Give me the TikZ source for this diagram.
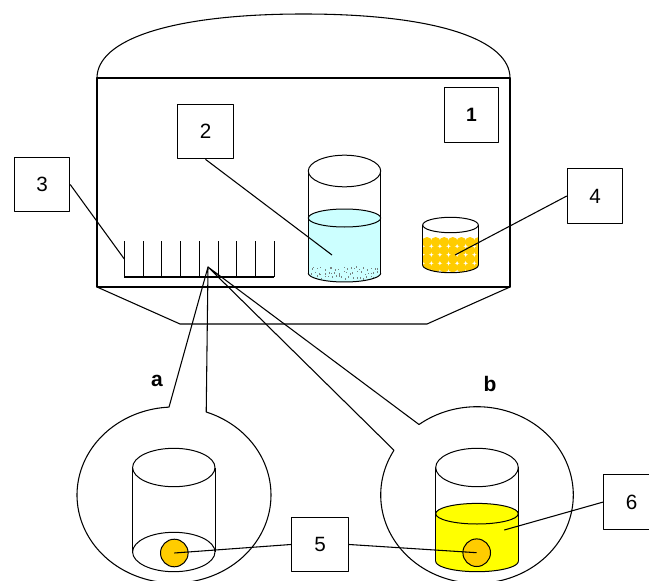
\documentclass[tikz,border=0pt]{standalone}
\usepackage{fontspec}
\setmainfont{Liberation Sans}
\definecolor{liquidcyan}{RGB}{204,255,255}
\definecolor{beadgold}{RGB}{255,204,0}
\definecolor{liquidyellow}{RGB}{255,255,0}
\definecolor{speck}{RGB}{120,130,130}
\begin{document}
\begin{tikzpicture}[x=0.75pt,y=-0.75pt,line width=0.8pt,line join=round,
  labelbox/.style={draw,inner sep=0pt,minimum width=41.5pt,minimum height=41pt,
    font=\fontsize{15.5}{18}\selectfont},
  tag/.style={inner sep=0pt,font=\bfseries\fontsize{15.75}{18}\selectfont},
  beakerline/.style={line width=0.75pt}]
\useasboundingbox (0,0) rectangle (649,581);

% ---------- chamber: dome, body and tapered base ----------
\draw (97,78) .. controls (97,40) and (170,14) .. (303.5,14)
              .. controls (437,14) and (510,40) .. (510,78);
\draw (97,78) rectangle (510,287);
\draw (97,287) -- (180,324) -- (427,324) -- (510,287);

% ---------- sample rack ----------
\foreach \k in {0,...,8}
  \draw ({124.3+18.75*\k},241) -- ({124.3+18.75*\k},277);
\draw (124.3,277) -- (274.3,277);
\coordinate (rack) at (124.3,259);
\coordinate (focus) at (208,267);

% ---------- beaker with water and sediment ----------
\fill[liquidcyan] plot[domain=180:360,samples=40] ({344.5+36.2*cos(\x)},{218+9*sin(\x)})
  -- plot[domain=0:180,samples=40] ({344.5+36.2*cos(\x)},{273+9*sin(\x)}) -- cycle;
\begin{scope}
  \clip (308.3,218) -- (308.3,273) -- plot[domain=180:0,samples=40] ({344.5+36.2*cos(\x)},{273+9*sin(\x)}) -- (380.7,218) -- cycle;
  \pgfmathsetseed{5}
  \foreach \r in {0,1,2}
    \foreach \c in {0,...,19}{
      \pgfmathsetmacro\sx{311+3.5*\c+rand*1.5}
      \pgfmathsetmacro\sy{268+4.3*\r+rand*1.6}
      \fill[speck] (\sx,\sy) rectangle ++(1,1.6);
    }
\end{scope}
\draw[beakerline] (344.5,171) ellipse [x radius=36.2, y radius=15.8];
\draw[beakerline] (344.5,218) ellipse [x radius=36.2, y radius=9];
\draw[beakerline] (308.3,171) -- (308.3,273);
\draw[beakerline] (380.7,171) -- (380.7,273);
\draw[beakerline] plot[domain=0:180,samples=40] ({344.5+36.2*cos(\x)},{273+9*sin(\x)});
\coordinate (water) at (332,255);

% ---------- small beaker with beads ----------
\begin{scope}
  \clip (422.7,228) -- (422.7,265) -- plot[domain=180:0,samples=40] ({450.5+27.8*cos(\x)},{265+7.7*sin(\x)}) -- (478.3,228) -- cycle;
  \foreach \i in {-1,...,7}
    \foreach \j in {0,...,3}
      \fill[beadgold] ({427+8.6*\i},{242+8.5*\j}) circle (5);
\end{scope}
\draw[beakerline] (450.5,225) ellipse [x radius=27.8, y radius=7.7];
\draw[beakerline] (422.7,225) -- (422.7,265);
\draw[beakerline] (478.3,225) -- (478.3,265);
\draw[beakerline] plot[domain=0:180,samples=40] ({450.5+27.8*cos(\x)},{265+7.7*sin(\x)});
\coordinate (beads) at (455,255);

% ---------- label boxes ----------
\node[labelbox,minimum width=40pt,font=\bfseries\fontsize{14.5}{17}\selectfont] (box1) at (471.5,115) {1};
\node[labelbox] (box2) at (205.5,131.5) {2};
\node[labelbox] (box3) at (42,184.5) {3};
\node[labelbox] (box4) at (595,196) {4};
\node[labelbox,minimum width=43pt] (box5) at (320,544.5) {5};
\node[labelbox] (box6) at (631.5,502) {6};

\node[tag] (taga) at (157,381) {a};
\node[tag] (tagb) at (490,384) {b};

% ---------- magnified callouts ----------
\coordinate (aL) at ({174+97*cos(267.05)},{495+88*sin(267.05)});
\coordinate (aR) at ({174+97*cos(289.4)},{495+88*sin(289.4)});
\draw (aL) -- (focus) -- (aR)
  -- plot[domain=289.4:627.05,samples=150] ({174+97*cos(\x)},{495+88*sin(\x)});

\coordinate (bU) at ({477+96.3*cos(232.98)},{495+88.3*sin(232.98)});
\coordinate (bL) at ({477+96.3*cos(210.45)},{495+88.3*sin(210.45)});
\draw (bL) -- (focus) -- (bU)
  -- plot[domain=232.98:570.45,samples=150] ({477+96.3*cos(\x)},{495+88.3*sin(\x)});

% empty beaker with a single bead
\draw[beakerline] (173.8,467.5) ellipse [x radius=41.2, y radius=19.2];
\draw[beakerline] (173.8,552) ellipse [x radius=41.2, y radius=19.7];
\draw[beakerline] (132.6,467.5) -- (132.6,552);
\draw[beakerline] (215,467.5) -- (215,552);
\draw[beakerline,fill=beadgold] (174.3,553) circle (13.8);
\coordinate (ballA) at (174.3,553);

% beaker with yellow solution and a bead
\fill[liquidyellow] plot[domain=180:360,samples=40] ({477+41.3*cos(\x)},{513.7+10.3*sin(\x)})
  -- plot[domain=0:180,samples=40] ({477+41.3*cos(\x)},{561.2+10.5*sin(\x)}) -- cycle;
\draw[beakerline] (477,467.5) ellipse [x radius=41.3, y radius=19.2];
\draw[beakerline] (477,513.7) ellipse [x radius=41.3, y radius=10.3];
\draw[beakerline] (435.7,467.5) -- (435.7,561.2);
\draw[beakerline] (518.3,467.5) -- (518.3,561.2);
\draw[beakerline] plot[domain=0:180,samples=40] ({477+41.3*cos(\x)},{561.2+10.5*sin(\x)});
\draw[beakerline,fill=beadgold] (476.7,552.7) circle (13.8);
\coordinate (ballB) at (476.7,552.7);
\coordinate (solution) at (504.3,530);

% ---------- leader lines ----------
\draw (box2.south) -- (water);
\draw (box3.east) -- (rack);
\draw (box4.west) -- (beads);
\draw (box5.west) -- (ballA);
\draw (box5.east) -- (ballB);
\draw (box6.west) -- (solution);
\end{tikzpicture}
\end{document}
